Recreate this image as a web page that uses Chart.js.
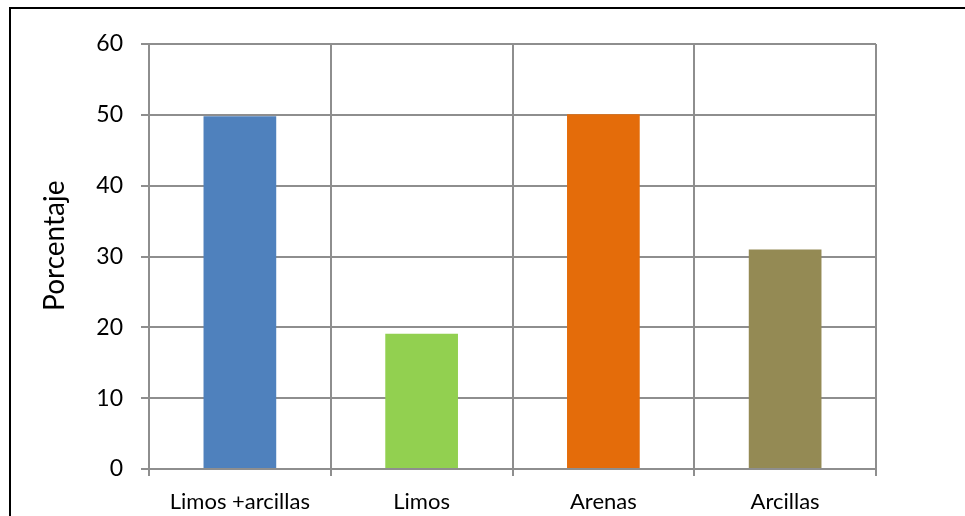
<!DOCTYPE html>
<html>
<head>
<meta charset="utf-8">
<script src="https://cdn.jsdelivr.net/npm/chart.js@4"></script>
<style>
  html,body{margin:0;padding:0;background:#fff}
  #wrap{position:relative;width:965px;height:516px;overflow:hidden}
  #frame{position:absolute;left:9px;top:7px;width:1000px;height:600px;border-left:2px solid #000;border-top:2px solid #000;pointer-events:none}
</style>
</head>
<body>
<div id="wrap">
  <canvas id="c" width="965" height="516"></canvas>
  <div id="frame"></div>
</div>
<script>
  // data
  const categories = ['Limos +arcillas', 'Limos', 'Arenas', 'Arcillas'];
  const porcentaje = [49.8, 19.1, 50.1, 31];
  const barColors = ['#4F81BD', '#92D050', '#E46C0A', '#948A54'];
  const yTitle = 'Porcentaje';
  const yMin = 0, yMax = 60, yStep = 10;

  const GRID = '#8e8e8e';
  const FONT = 'Lato, "Liberation Sans", sans-serif';

  new Chart(document.getElementById('c'), {
    type: 'bar',
    data: {
      labels: categories,
      datasets: [{ data: porcentaje, backgroundColor: barColors, borderWidth: 0,
                   categoryPercentage: 1, barPercentage: 0.4 }]
    },
    options: {
      responsive: false, animation: false,
      layout: { padding: { left: 0, top: 44, right: 89, bottom: 0 } },
      plugins: { legend: { display: false }, tooltip: { enabled: false } },
      scales: {
        x: {
          grid: { color: GRID, lineWidth: 2, tickLength: 7, offset: true },
          border: { color: GRID, width: 2 },
          ticks: { color: '#000', padding: 13, maxRotation: 0, font: { family: FONT, size: 22 } },
          afterFit: s => { s.height = 47; }
        },
        y: {
          min: yMin, max: yMax,
          grid: { color: GRID, lineWidth: 2, tickLength: 8 },
          border: { color: GRID, width: 2 },
          ticks: { stepSize: yStep, color: '#000', padding: 18, font: { family: FONT, size: 23 } },
          // leading spaces nudge the rotated title up, as in the original
          title: { display: true, text: '   ' + yTitle, color: '#000', padding: { top: 38, bottom: 0 },
                   font: { family: FONT, size: 28 } },
          afterFit: s => { s.width = 149; }
        }
      }
    }
  });
</script>
</body>
</html>
